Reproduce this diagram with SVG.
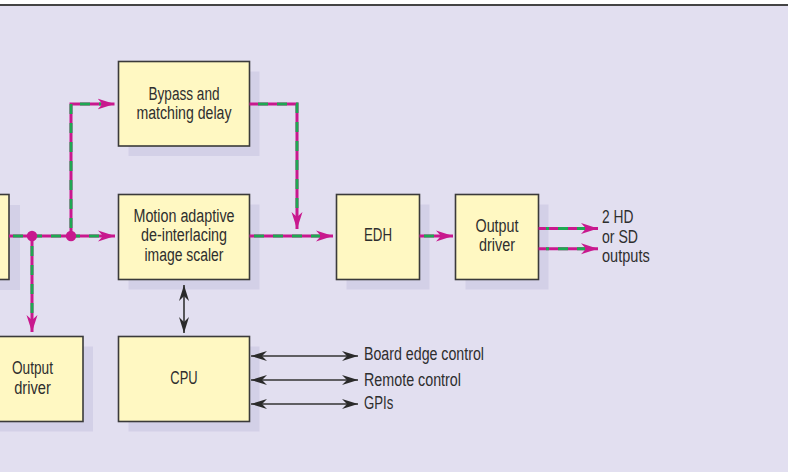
<svg xmlns="http://www.w3.org/2000/svg" width="788" height="472" viewBox="0 0 788 472">
<defs>
<style>
.bg{fill:#e2dff0}
.box{fill:#fff8c2;stroke:#3a3a3a;stroke-width:1.6}
.sh{fill:#d3d0e7}
.t{font-family:"Liberation Sans",Arial,sans-serif;font-size:18px;fill:#2e2e2e}
.m{text-anchor:middle}
.mag{fill:none;stroke:#c8198e;stroke-width:3}
.grn{fill:none;stroke:#1ea852;stroke-width:3;stroke-dasharray:10 9}
.blk{fill:none;stroke:#333;stroke-width:1.6}
</style>
<marker id="am" markerUnits="userSpaceOnUse" markerWidth="20" markerHeight="14" viewBox="-17 -7 20 14" refX="0" refY="0" orient="auto">
<path d="M0,0 L-17,-5.5 L-12,0 L-17,5.5 Z" fill="#c8198e"/>
</marker>
<marker id="ab" markerUnits="userSpaceOnUse" markerWidth="20" markerHeight="14" viewBox="-17 -7 20 14" refX="0" refY="0" orient="auto-start-reverse">
<path d="M0,0 L-16,-5 L-11,0 L-16,5 Z" fill="#2a2a2a"/>
</marker>
</defs>
<rect x="0" y="0" width="788" height="472" fill="#ffffff"/>
<rect class="bg" x="0" y="5" width="788" height="467"/>
<line x1="0" y1="5" x2="788" y2="5" stroke="#444" stroke-width="2"/>

<g id="input-box">
<rect class="sh" x="-10" y="205" width="30" height="85"/>
<rect class="box" x="-20" y="194.5" width="29" height="85"/>
</g>
<g id="bypass">
<rect class="sh" x="128.5" y="71.5" width="131" height="84.5"/>
<rect class="box" x="118.5" y="61.5" width="131" height="84.5"/>
<text class="t m" x="184" y="100" textLength="71" lengthAdjust="spacingAndGlyphs">Bypass and</text>
<text class="t m" x="184" y="118.5" textLength="95" lengthAdjust="spacingAndGlyphs">matching delay</text>
</g>
<g id="scaler">
<rect class="sh" x="128.5" y="204.5" width="131" height="85"/>
<rect class="box" x="118.5" y="194.5" width="131" height="85"/>
<text class="t m" x="184" y="221.7" textLength="101" lengthAdjust="spacingAndGlyphs">Motion adaptive</text>
<text class="t m" x="184" y="241" textLength="86" lengthAdjust="spacingAndGlyphs">de-interlacing</text>
<text class="t m" x="184" y="260.7" textLength="79" lengthAdjust="spacingAndGlyphs">image scaler</text>
</g>
<g id="edh">
<rect class="sh" x="346.5" y="204.5" width="83" height="85"/>
<rect class="box" x="336.5" y="194.5" width="83" height="85"/>
<text class="t m" x="378" y="241" textLength="28" lengthAdjust="spacingAndGlyphs">EDH</text>
</g>
<g id="output-driver-main">
<rect class="sh" x="465.5" y="204.5" width="83" height="85"/>
<rect class="box" x="455.5" y="194.5" width="83" height="85"/>
<text class="t m" x="497" y="232.3" textLength="43" lengthAdjust="spacingAndGlyphs">Output</text>
<text class="t m" x="497" y="251" textLength="36" lengthAdjust="spacingAndGlyphs">driver</text>
</g>
<g id="output-driver-aux">
<rect class="sh" x="-8" y="346.5" width="101" height="85"/>
<rect class="box" x="-18" y="336.5" width="101" height="85"/>
<text class="t m" x="32.5" y="374" textLength="41" lengthAdjust="spacingAndGlyphs">Output</text>
<text class="t m" x="32.5" y="394" textLength="36.7" lengthAdjust="spacingAndGlyphs">driver</text>
</g>
<g id="cpu">
<rect class="sh" x="128.5" y="346.5" width="131" height="85"/>
<rect class="box" x="118.5" y="336.5" width="131" height="85"/>
<text class="t m" x="184" y="384.3" textLength="27.3" lengthAdjust="spacingAndGlyphs">CPU</text>
</g>
<g id="labels">
<text class="t" x="602" y="223.3" textLength="31.4" lengthAdjust="spacingAndGlyphs">2 HD</text>
<text class="t" x="602" y="242.5" textLength="36" lengthAdjust="spacingAndGlyphs">or SD</text>
<text class="t" x="602" y="261.5" textLength="47.7" lengthAdjust="spacingAndGlyphs">outputs</text>
<text class="t" x="364" y="360.3" textLength="120" lengthAdjust="spacingAndGlyphs">Board edge control</text>
<text class="t" x="364" y="385.7" textLength="97" lengthAdjust="spacingAndGlyphs">Remote control</text>
<text class="t" x="364" y="409.3" textLength="29.3" lengthAdjust="spacingAndGlyphs">GPIs</text>
</g>

<g id="connectors">
<path class="mag" d="M9,236 H115" marker-end="url(#am)"/>
<path class="mag" d="M71,236 V104 H114.5" marker-end="url(#am)"/>
<path class="mag" d="M249.5,104 H297 V229" marker-end="url(#am)"/>
<path class="mag" d="M249.5,236 H333" marker-end="url(#am)"/>
<path class="mag" d="M32,236 V332" marker-end="url(#am)"/>
<path class="mag" d="M419.5,236 H453" marker-end="url(#am)"/>
<path class="mag" d="M538.5,228.5 H598" marker-end="url(#am)"/>
<path class="mag" d="M538.5,248.7 H598" marker-end="url(#am)"/>

<path class="grn" d="M9,236 H102" stroke-dashoffset="-4"/>
<path class="grn" d="M71,228 V104 H101" stroke-dashoffset="0"/>
<path class="grn" d="M252,104 H297 V216" stroke-dashoffset="-6"/>
<path class="grn" d="M252,236 H320" stroke-dashoffset="-2"/>
<path class="grn" d="M32,243 V319" stroke-dashoffset="-3"/>
<path class="grn" d="M424,236 H440" stroke-dasharray="12 9"/>
<path class="grn" d="M546,228.5 H585" stroke-dashoffset="-12"/>
<path class="grn" d="M546,248.7 H585" stroke-dashoffset="-12"/>

<circle cx="32" cy="236" r="5.2" fill="#c8198e"/>
<circle cx="71" cy="236" r="5.2" fill="#c8198e"/>

<path class="blk" d="M184,285 V333" marker-start="url(#ab)" marker-end="url(#ab)"/>
<path class="blk" d="M251,356 H358" marker-start="url(#ab)" marker-end="url(#ab)"/>
<path class="blk" d="M251,380 H358" marker-start="url(#ab)" marker-end="url(#ab)"/>
<path class="blk" d="M251,404 H358" marker-start="url(#ab)" marker-end="url(#ab)"/>
</g>
</svg>
